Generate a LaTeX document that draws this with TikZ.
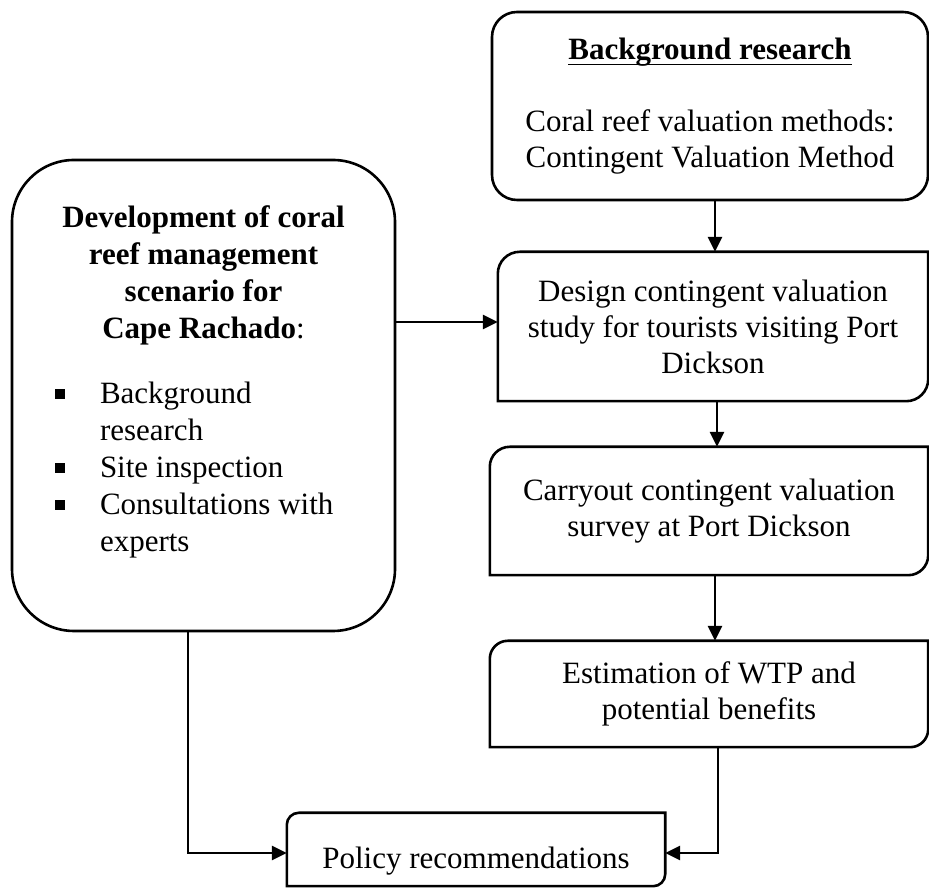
\documentclass[tikz,border=0pt]{standalone}
\usepackage{fontspec}
\setmainfont{Liberation Serif}
\usetikzlibrary{arrows.meta}
\newsavebox{\ulbox}
\newcommand{\myul}[1]{\sbox{\ulbox}{#1}\rlap{\rule[-6pt]{\wd\ulbox}{1.8pt}}\usebox{\ulbox}}
\newcommand{\dgbox}[2]{\draw[boxline] (#1.south west) -- ([yshift=-#2]#1.north west) arc[start angle=180,end angle=90,radius=#2] -- (#1.north east) -- ([yshift=#2]#1.south east) arc[start angle=0,end angle=-90,radius=#2] -- cycle;}
\newcommand{\sqbul}{\raisebox{5pt}{\rule{10pt}{10pt}}}
\tikzset{
  boxline/.style={line width=2.6pt},
  txtbox/.style={inner sep=0pt, align=center, font=\fontsize{31}{36}\selectfont},
  arr/.style={line width=2.6pt, -{Triangle[length=15pt,width=14pt]}}
}
\begin{document}
\begin{tikzpicture}[x=1pt,y=1pt]
\useasboundingbox (0,0) rectangle (929,888);
\fill[white] (0,0) rectangle (929,888);

% Background research
\node[txtbox, draw, boxline, rounded corners=25pt, minimum width=436pt, minimum height=188pt] (bg) at (710,782)
  {\textbf{\myul{Background research}}\\[36pt]Coral reef valuation methods:\\Contingent Valuation Method};

% Design
\node[txtbox, minimum width=430pt, minimum height=149pt] (design) at (713,561.5)
  {Design contingent valuation\\study for tourists visiting Port\\Dickson};
\dgbox{design}{22pt}

% Carryout
\node[txtbox, minimum width=438pt, minimum height=128pt] (carry) at (709,377)
  {Carryout contingent valuation\\survey at Port Dickson};
\dgbox{carry}{20pt}

% Estimation
\node[txtbox, minimum width=438pt, minimum height=106pt] (est) at (709,194)
  {Estimation of WTP and\\potential benefits};
\dgbox{est}{18pt}

% Policy
\node[txtbox, minimum width=378pt, minimum height=73pt] (policy) at (476,38.5)
  {\raisebox{-19pt}[0pt][0pt]{Policy recommendations}};
\dgbox{policy}{12pt}

% Left box
\node[draw, boxline, rounded corners=62pt, inner sep=0pt, minimum width=383pt, minimum height=471pt] (left) at (203.5,492.5)
  {\begin{minipage}[c][471pt][t]{340pt}\fontsize{31}{37}\selectfont
   \vspace*{46pt}
   \centering\textbf{Development of coral\\reef management\\scenario for\\Cape Rachado}:\par
   \vspace{28pt}
   \raggedright
   \hspace*{21.5pt}\makebox[45pt][l]{\sqbul}Background\\
   \hspace*{66.5pt}research\\
   \hspace*{21.5pt}\makebox[45pt][l]{\sqbul}Site inspection\\
   \hspace*{21.5pt}\makebox[45pt][l]{\sqbul}Consultations with\\
   \hspace*{66.5pt}experts\par
   \end{minipage}};

% Connectors
\draw[arr] ([xshift=5pt]bg.south) -- ([xshift=5pt]bg.south |- design.north);
\draw[arr] ([xshift=4pt]design.south) -- ([xshift=4pt]design.south |- carry.north);
\draw[arr] ([xshift=6pt]carry.south) -- ([xshift=6pt]carry.south |- est.north);
\draw[arr] ([yshift=73.5pt]left.east) coordinate (la) -- (la -| design.west);
\draw[arr] ([xshift=9pt]est.south) |- ([yshift=-3.5pt]policy.east);
\draw[arr] ([xshift=-15.5pt]left.south) |- ([yshift=-3.5pt]policy.west);
\end{tikzpicture}
\end{document}
